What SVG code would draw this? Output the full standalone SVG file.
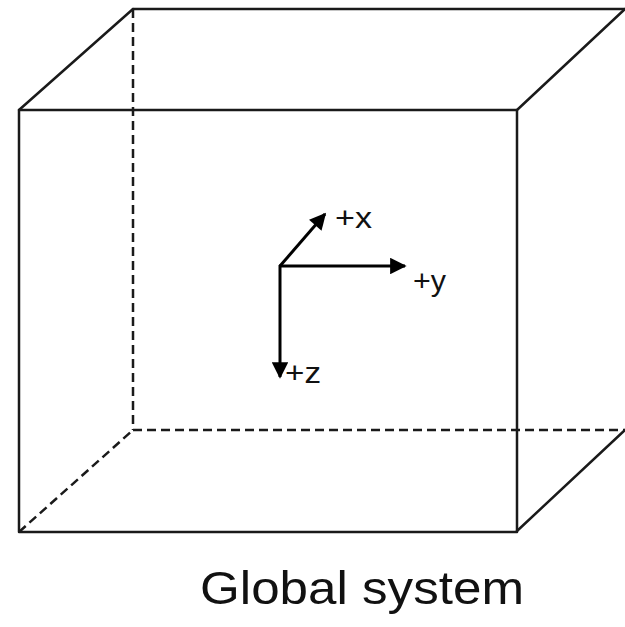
<svg xmlns="http://www.w3.org/2000/svg" width="625" height="627" viewBox="0 0 625 627">
<style>
.solid{stroke:#1a1a1a;stroke-width:2.5;fill:none;stroke-linecap:round;stroke-linejoin:round}
.dash{stroke:#1a1a1a;stroke-width:2.5;fill:none;stroke-dasharray:9 5}
.axis{stroke:#000;stroke-width:3;fill:none}
.lbl{font-family:"Liberation Sans",Arial,sans-serif;fill:#111}
</style>
<defs>
<marker id="ah" viewBox="0 0 10 10" refX="9" refY="5" markerWidth="6.5" markerHeight="5.5" markerUnits="strokeWidth" orient="auto">
<path d="M0,0 L10,5 L0,10 Z" fill="#000"/>
</marker>
</defs>
<rect width="625" height="627" fill="#fff"/>
<g id="box">
<line class="dash" x1="133" y1="9" x2="133" y2="430"/>
<line class="dash" x1="133" y1="430" x2="625" y2="430"/>
<line class="dash" x1="19" y1="532" x2="133" y2="430"/>
<line class="solid" x1="133" y1="9" x2="625" y2="9"/>
<line class="solid" x1="19" y1="110" x2="133" y2="9"/>
<line class="solid" x1="517" y1="110" x2="625" y2="9"/>
<line class="solid" x1="517" y1="531" x2="625" y2="430"/>
<rect class="solid" x="19" y="110" width="498" height="422"/>
</g>
<g id="connectors">
<line class="axis" x1="280" y1="266" x2="325" y2="214" marker-end="url(#ah)"/>
<line class="axis" x1="279" y1="266" x2="405" y2="266" marker-end="url(#ah)"/>
<line class="axis" x1="280" y1="265" x2="280" y2="377" marker-end="url(#ah)"/>
</g>
<g id="labels">
<text class="lbl" x="335" y="228" font-size="29" textLength="37" lengthAdjust="spacingAndGlyphs">+x</text>
<text class="lbl" x="413" y="291" font-size="29" textLength="33" lengthAdjust="spacingAndGlyphs">+y</text>
<text class="lbl" x="285" y="383" font-size="29" textLength="36" lengthAdjust="spacingAndGlyphs">+z</text>
<text id="title" class="lbl" x="200" y="604" font-size="46" textLength="324" lengthAdjust="spacingAndGlyphs">Global system</text>
</g>
</svg>
